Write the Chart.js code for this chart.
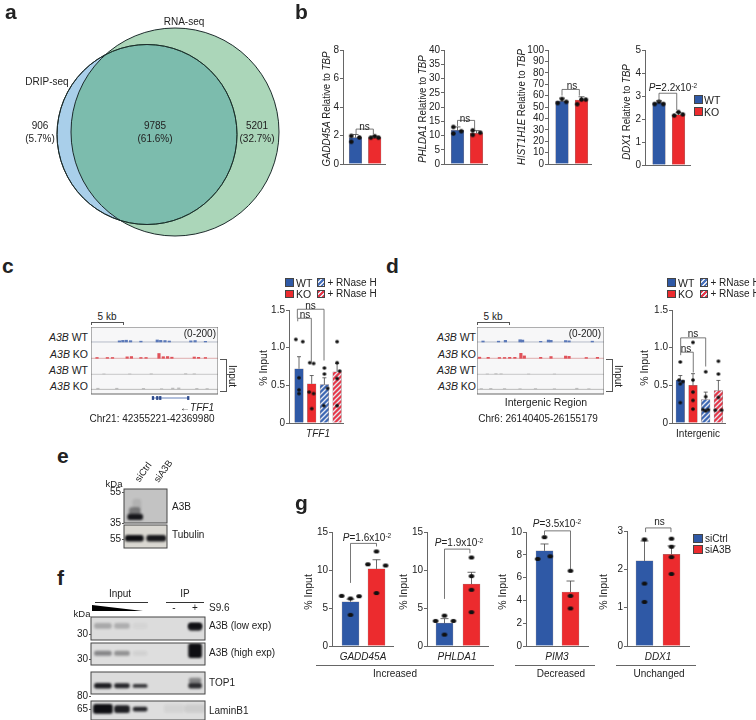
<!DOCTYPE html>
<html lang="en">
<head>
<meta charset="UTF-8">
<title>DRIP-seq figure</title>
<script src="https://cdn.jsdelivr.net/npm/chart.js"></script>
<style>
  html, body { margin: 0; padding: 0; background: #fff; }
  #fig { position: relative; width: 756px; height: 720px; overflow: hidden; font-family: "Liberation Sans", Arial, sans-serif; color: #222; }
  #fig canvas { position: absolute; }
  .t { position: absolute; white-space: nowrap; line-height: 1; }
  .t sup { font-size: 65%; line-height: 0; vertical-align: 0.45em; }
  .ln { position: absolute; background: #555; }
  .sq { position: absolute; box-sizing: border-box; border: 0.5px solid #444; }
</style>
</head>
<body>
<div id="fig"></div>
<script>
// panel a
const vennDrip = [{ x: 147, y: 134.5, r: 90 }];
const vennRna = [{ x: 175, y: 132, r: 104 }];

// panel b
const gaddBars = [1.85, 1.85], gaddErr = [0.22, 0.1];
const gaddDots = [[1.97, 1.56, 1.86], [1.85, 1.95, 1.85]];
const phldaBars = [11.8, 10.8], phldaErr = [1.2, 0.9];
const phldaDots = [[13, 10.7, 11.5], [11.8, 10.2, 11]];
const histBars = [55, 56], histErr = [2.8, 3];
const histDots = [[53.5, 57, 54.5], [52.5, 56.5, 56.5]];
const ddxBars = [2.71, 2.18], ddxErr = [0.08, 0.11];
const ddxDots = [[2.65, 2.75, 2.65], [2.15, 2.3, 2.2]];

// panel c
const tffBars = [0.72, 0.52, 0.51, 0.68], tffErr = [0.16, 0.11, 0.09, 0.11];
const tffDots = [[1.11, 1.08, 0.6, 0.44, 0.39], [0.8, 0.79, 0.41, 0.39, 0.19], [0.73, 0.65, 0.46, 0.23], [1.08, 0.8, 0.69, 0.59, 0.23]];

// panel d
const interBars = [0.57, 0.5, 0.31, 0.43], interErr = [0.06, 0.155, 0.1, 0.135];
const interDots = [[0.81, 0.57, 0.55, 0.52, 0.27], [1.07, 0.57, 0.41, 0.3, 0.185], [0.68, 0.35, 0.177, 0.177, 0.16], [0.82, 0.65, 0.34, 0.17, 0.17]];

// browser tracks, [kb from window start, signal]
const tffTrackWT = [[3.3, 14], [3.7, 20], [4.1, 22], [4.6, 16], [5.8, 10], [7.7, 25], [8.1, 20], [8.6, 18], [9.1, 12], [11.6, 14], [12.1, 18], [13.3, 8]];
const tffTrackKO = [[0.7, 10], [1.9, 10], [2.5, 10], [4.2, 18], [4.7, 22], [5.8, 10], [6.4, 10], [7.9, 60], [8.4, 20], [8.9, 22], [9.4, 14], [12, 16], [12.5, 12], [13.3, 10]];
const tffInputWT = [[1.5, 6], [4.5, 6], [7, 8], [11, 10], [12, 8]];
const tffInputKO = [[0.8, 14], [3, 14], [6.1, 12], [8.2, 8], [9.5, 16], [10.2, 18], [12.3, 12], [13.5, 10]];
const tffGeneSpan = [7.2, 11.4], tffExons = [7.2, 7.7, 8.05, 11.3];
const interTrackWT = [[0.7, 12], [2.5, 10], [3.3, 20], [5, 28], [5.3, 24], [7.4, 8], [8.3, 24], [8.6, 20], [10.3, 18], [10.7, 14], [13.4, 10]];
const interTrackKO = [[0.3, 14], [1.3, 12], [2.6, 10], [3.2, 10], [3.8, 12], [4.4, 12], [5.1, 62], [5.5, 30], [7.4, 12], [8.6, 22], [10.3, 28], [10.7, 24], [12.7, 10], [14, 12]];
const interInputWT = [[1.2, 6], [2.2, 10], [2.8, 8], [6, 5], [9, 5]];
const interInputKO = [[0.5, 10], [1.6, 12], [3.2, 10], [5, 8], [6.8, 10], [9, 8], [11.6, 14], [13, 8]];

// blots, band strength per lane
const siLanes = ["siCtrl", "siA3B"];
const eA3B = [0.95, 0], eTubulin = [1, 0.95];
const fA3BLow = [0.25, 0.22, 0.04, 0, 0, 0.95];
const fA3BHigh = [0.42, 0.36, 0.06, 0, 0, 1];
const fTop1 = [0.92, 0.88, 0.8, 0, 0, 0.85];
const fLamin = [1, 0.92, 0.88, 0, 0.05, 0.08];

// panel g
const gGaddBars = [5.82, 10.15], gGaddErr = [0.35, 1.2];
const gGaddDots = [[6.6, 6.25, 6.55, 4.1], [12.45, 10.75, 10.6, 6.97]];
const gPhldaBars = [3, 8.15], gPhldaErr = [0.6, 1.55];
const gPhldaDots = [[4, 3.3, 3.3, 1.5], [11.65, 9.2, 7.4, 4.45]];
const gPimBars = [8.35, 4.74], gPimErr = [0.6, 0.96];
const gPimDots = [[9.55, 7.64, 7.87], [6.6, 4.4, 3.3]];
const gDdxBars = [2.22, 2.39], gDdxErr = [0.52, 0.22];
const gDdxDots = [[3.3, 2.78, 1.63, 1.15], [2.8, 2.59, 2.32, 1.88]];

const BLUE = "#2f59a6", RED = "#ec2b2e", AXIS = "#666";
const fig = document.getElementById("fig");

function txt(html, x, y, opt) {
  opt = opt || {};
  const d = document.createElement("div");
  d.className = "t";
  d.innerHTML = html;
  d.style.left = x + "px";
  d.style.top = y + "px";
  d.style.fontSize = (opt.size || 10) + "px";
  if (opt.bold) d.style.fontWeight = "bold";
  const ax = opt.a === "l" ? "0" : opt.a === "r" ? "-100%" : "-50%";
  d.style.transform = "translate(" + ax + ",-50%)" + (opt.rot ? " rotate(" + opt.rot + "deg)" : "") + (opt.sx ? " scaleX(" + opt.sx + ")" : "");
  fig.appendChild(d);
}
function line(x, y, w, h, color) {
  const d = document.createElement("div");
  d.className = "ln";
  d.style.cssText = "left:" + x + "px;top:" + y + "px;width:" + w + "px;height:" + h + "px;" + (color ? "background:" + color : "");
  fig.appendChild(d);
}
function square(x, y, w, h, bg) {
  const d = document.createElement("div");
  d.className = "sq";
  d.style.cssText = "left:" + x + "px;top:" + y + "px;width:" + w + "px;height:" + h + "px;background:" + bg;
  fig.appendChild(d);
}
function newCanvas(left, top, w, h) {
  const c = document.createElement("canvas");
  c.width = w; c.height = h;
  c.style.left = left + "px"; c.style.top = top + "px";
  c.style.width = w + "px"; c.style.height = h + "px";
  fig.appendChild(c);
  return c;
}
function hatch(color) {
  const c = document.createElement("canvas");
  c.width = 5; c.height = 5;
  const g = c.getContext("2d");
  g.fillStyle = color; g.fillRect(0, 0, 5, 5);
  g.strokeStyle = "#e6e9f2"; g.lineWidth = 1.3;
  g.beginPath();
  g.moveTo(-1, 6); g.lineTo(6, -1);
  g.moveTo(-1, 1); g.lineTo(1, -1);
  g.moveTo(4, 6); g.lineTo(6, 4);
  g.stroke();
  return c;
}
function dotImg(w, h) {
  const c = document.createElement("canvas");
  c.width = Math.ceil(w) + 2; c.height = Math.ceil(h) + 2;
  const g = c.getContext("2d");
  g.fillStyle = "#111";
  g.beginPath();
  g.ellipse(c.width / 2, c.height / 2, w / 2, h / 2, 0, 0, Math.PI * 2);
  g.fill();
  return c;
}

// error whiskers and p-value brackets go through the chart's scales
const barExtras = {
  id: "barExtras",
  afterDatasetDraw(chart, args, o) {
    if (args.index !== 0) return;
    const g = chart.ctx, sx = chart.scales.x, sy = chart.scales.y;
    g.save();
    g.strokeStyle = "#444"; g.lineWidth = 0.8;
    o.bars.forEach((v, i) => {
      const x = sx.getPixelForValue(i), y0 = sy.getPixelForValue(v), y1 = sy.getPixelForValue(v + o.err[i]);
      g.beginPath();
      g.moveTo(x, y0); g.lineTo(x, y1);
      g.moveTo(x - o.cap, y1); g.lineTo(x + o.cap, y1);
      g.stroke();
    });
    g.restore();
  },
  afterDraw(chart, args, o) {
    const g = chart.ctx, sx = chart.scales.x, sy = chart.scales.y;
    g.save();
    g.strokeStyle = "#555"; g.lineWidth = 0.8;
    (o.brackets || []).forEach(b => {
      const x1 = sx.getPixelForValue(b[0]), x2 = sx.getPixelForValue(b[1]);
      g.beginPath();
      g.moveTo(x1, sy.getPixelForValue(b[3]));
      g.lineTo(x1, sy.getPixelForValue(b[2]));
      g.lineTo(x2, sy.getPixelForValue(b[2]));
      g.lineTo(x2, sy.getPixelForValue(b[4]));
      g.stroke();
    });
    g.restore();
  }
};

function barChart(cfg) {
  const padL = 24, padT = 20, padR = 6, padB = 4;
  const [px, py, pw, ph] = cfg.plot;
  const c = newCanvas(px - padL, py - padT, pw + padL + padR, ph + padT + padB);
  const xMin = -(cfg.c0 - px) / cfg.s, xMax = (px + pw - cfg.c0) / cfg.s;
  const dotData = [];
  cfg.dots.forEach((vals, i) => vals.forEach((v, j) => dotData.push({ x: i + cfg.jit[i][j], y: v })));
  const g = c.getContext("2d");
  const fills = cfg.colors.map(k => (typeof k === "string" ? k : g.createPattern(k, "repeat")));
  new Chart(c, {
    type: "bar",
    data: {
      datasets: [
        {
          data: cfg.bars.map((v, i) => ({ x: i, y: v })),
          backgroundColor: fills,
          borderColor: "rgba(60,30,30,.55)",
          borderWidth: 0.5,
          barThickness: cfg.bw,
          order: 1
        },
        {
          type: "scatter",
          data: dotData,
          pointStyle: cfg.dot,
          clip: false,
          order: 0
        }
      ]
    },
    options: {
      responsive: false,
      animation: false,
      layout: { autoPadding: false, padding: { top: padT, right: padR, bottom: padB, left: 0 } },
      plugins: {
        legend: { display: false },
        tooltip: { enabled: false },
        barExtras: { bars: cfg.bars, err: cfg.err, cap: cfg.cap || 3, brackets: cfg.brackets }
      },
      scales: {
        x: {
          type: "linear", min: xMin, max: xMax, offset: false,
          grid: { display: false, offset: false },
          ticks: { display: false },
          border: { color: AXIS, width: 1 },
          afterFit: s => { s.height = 0; }
        },
        y: {
          min: 0, max: cfg.ymax,
          grid: { drawOnChartArea: false, tickLength: 3, color: AXIS },
          border: { color: AXIS, width: 1 },
          ticks: {
            stepSize: cfg.step, autoSkip: false, padding: 1, color: "#222",
            font: { family: "Liberation Sans", size: 10 },
            callback: cfg.fmt || (v => String(v))
          },
          afterFit: s => { s.width = padL; }
        }
      }
    },
    plugins: [barExtras]
  });
}

// ---- panel a
(function () {
  const c = newCanvas(0, 0, 300, 240);
  new Chart(c, {
    type: "bubble",
    data: {
      datasets: [
        { data: vennDrip, backgroundColor: "transparent", borderColor: "#1c2b2b", borderWidth: 1, clip: false },
        { data: vennRna, backgroundColor: "rgba(68,164,100,.45)", borderColor: "#1c2b2b", borderWidth: 1, clip: false },
        { data: vennDrip, backgroundColor: "#a9cfea", borderColor: "#1c2b2b", borderWidth: 1, clip: false }
      ]
    },
    options: {
      responsive: false, animation: false,
      layout: { autoPadding: false },
      plugins: { legend: { display: false }, tooltip: { enabled: false } },
      scales: {
        x: { display: false, min: 0, max: 300 },
        y: { display: false, min: 0, max: 240, reverse: true }
      }
    }
  });
})();
txt("a", 5, 11, { size: 21, bold: true, a: "l" });
txt("RNA-seq", 184, 22);
txt("DRIP-seq", 47, 82);
txt("906", 40, 126); txt("(5.7%)", 40, 139);
txt("9785", 155, 126); txt("(61.6%)", 155, 139);
txt("5201", 257, 126); txt("(32.7%)", 257, 139);

// ---- panel b
txt("b", 295, 11, { size: 21, bold: true, a: "l" });
const jitB = [[-0.22, -0.22, 0.2], [-0.2, 0, 0.2]];
const dotB = dotImg(4.6, 4.4);
barChart({ plot: [343, 49.7, 42, 117.6], c0: 355.5, s: 19.2, bw: 12.6, ymax: 8, step: 2, bars: gaddBars, err: gaddErr, dots: gaddDots, jit: jitB, colors: [BLUE, RED], dot: dotB, brackets: [[0.03, 0.93, 2.45, 2.1, 2.1]] });
barChart({ plot: [444, 49.7, 43, 117.6], c0: 457.5, s: 19, bw: 12.6, ymax: 40, step: 5, bars: phldaBars, err: phldaErr, dots: phldaDots, jit: [[-0.22, -0.22, 0.2], [-0.2, -0.2, 0.2]], colors: [BLUE, RED], dot: dotB, brackets: [[0, 0.9, 15.3, 13.3, 12.1]] });
barChart({ plot: [548, 49.7, 43, 117.6], c0: 562, s: 19.5, bw: 12.6, ymax: 100, step: 10, bars: histBars, err: histErr, dots: histDots, jit: [[-0.22, 0, 0.22], [-0.22, 0, 0.22]], colors: [BLUE, RED], dot: dotB, brackets: [[0, 0.89, 65.4, 60, 60]] });
barChart({ plot: [645, 49.7, 45, 118.6], c0: 659, s: 19.5, bw: 12.6, ymax: 5, step: 1, bars: ddxBars, err: ddxErr, dots: ddxDots, jit: [[-0.22, 0, 0.22], [-0.22, 0, 0.22]], colors: [BLUE, RED], dot: dotB, brackets: [[0, 0.91, 3.12, 2.74, 2.39]] });
txt("<i>GADD45A</i> Relative to <i>TBP</i>", 326, 109, { size: 10.5, sx: 0.92, rot: -90 });
txt("<i>PHLDA1</i> Relative to <i>TBP</i>", 422, 109, { size: 10.5, sx: 0.92, rot: -90 });
txt("<i>HIST1H1E</i> Relative to <i>TBP</i>", 521, 107, { size: 10.5, sx: 0.92, rot: -90 });
txt("<i>DDX1</i> Relative to <i>TBP</i>", 626, 112, { size: 10.5, sx: 0.92, rot: -90 });
txt("ns", 364.5, 126.5); txt("ns", 465, 118.5); txt("ns", 572, 86);
txt("<i>P</i>=2.2x10<sup>-2</sup>", 673, 88, { size: 10 });
square(694, 95, 9, 9, BLUE); txt("WT", 704, 99.5, { size: 10.5, a: "l" });
square(694, 107, 9, 8.5, RED); txt("KO", 704, 111.5, { size: 10.5, a: "l" });

// ---- tracks for c and d
const trackBase = [650, 446, 246, 58];
const trackCols = ["#5a78b8", "#e0525a", "#c4c4c4", "#bcbcbc"];
const baseCols = ["#a4abbc", "#d99a9a", "#bbbbbb", "#aaaaaa"];
const trackBox = {
  id: "trackBox",
  beforeDraw(chart) {
    const a = chart.chartArea, g = chart.ctx;
    g.fillStyle = "#f7f7f8";
    g.fillRect(a.left, a.top, a.width, a.height);
  },
  afterDraw(chart) {
    const a = chart.chartArea, g = chart.ctx;
    g.strokeStyle = "#666"; g.lineWidth = 1;
    g.strokeRect(a.left, a.top, a.width, a.height);
  }
};
function trackChart(left, tracks, geneSpan, exons) {
  const c = newCanvas(left, 327, 127, 80);
  const ds = [];
  tracks.forEach((tr, i) => {
    ds.push({
      data: tr.map(p => ({ x: p[0], y: [trackBase[i], trackBase[i] + p[1]] })),
      backgroundColor: trackCols[i], barThickness: 2.5, grouped: false, order: 0
    });
    ds.push({
      type: "line", data: [{ x: 0, y: trackBase[i] }, { x: 14.76, y: trackBase[i] }],
      borderColor: baseCols[i], borderWidth: 0.8, pointRadius: 0, order: 1
    });
  });
  if (geneSpan) {
    ds.push({
      type: "line", data: geneSpan.map(k => ({ x: k, y: -50 })), clip: false,
      borderColor: "#3d5fa8", borderWidth: 0.8, pointRadius: 0, order: 1
    });
    ds.push({
      data: exons.map(k => ({ x: k, y: [-70, -30] })), clip: false,
      backgroundColor: "#2d4a8c", barThickness: 1.6, grouped: false, order: 0
    });
  }
  new Chart(c, {
    type: "bar",
    data: { datasets: ds },
    options: {
      responsive: false, animation: false,
      layout: { autoPadding: false, padding: { bottom: 13 } },
      plugins: { legend: { display: false }, tooltip: { enabled: false } },
      scales: {
        x: { type: "linear", display: false, min: 0, max: 14.76, offset: false, grid: { offset: false } },
        y: { display: false, min: 0, max: 837 }
      }
    },
    plugins: [trackBox]
  });
}
function trackLabels(right, y) {
  ["<i>A3B</i> WT", "<i>A3B</i> KO", "<i>A3B</i> WT", "<i>A3B</i> KO"].forEach((s, i) => {
    txt(s, right, y[i], { size: 10.5, a: "r" });
  });
}
function fiveKb(x) {
  txt("5 kb", x + 16, 317, { size: 10 });
  line(x, 322, 32, 0.8); line(x, 322, 0.8, 3); line(x + 31.5, 322, 0.8, 3);
}
function inputBracket(x) {
  line(x, 359, 6.5, 0.8); line(x, 391, 6.5, 0.8); line(x + 6, 359, 0.8, 32.6);
  txt("Input", x + 12, 376, { size: 10, rot: 90 });
}

// ---- panel c
txt("c", 2, 265, { size: 21, bold: true, a: "l" });
trackChart(91, [tffTrackWT, tffTrackKO, tffInputWT, tffInputKO], tffGeneSpan, tffExons);
trackLabels(88, [337, 354, 370, 386]);
fiveKb(91);
txt("(0-200)", 216, 334, { size: 10, a: "r" });
inputBracket(220);
txt("\u2190<i>TFF1</i>", 197, 408, { size: 10 });
txt("Chr21: 42355221-42369980", 152, 419, { size: 10 });
const jitC = [[-0.25, 0.3, 0, 0, 0], [-0.15, 0.15, -0.2, 0.15, 0], [0, 0, 0.25, -0.05], [0, 0, 0.2, 0, 0]];
const dotC = dotImg(3.8, 3.4);
const hatchBlue = hatch("#3f69b4"), hatchRed = hatch("#e6394a");
barChart({ plot: [289, 310, 54, 116], c0: 299, s: 12.7, bw: 8.6, ymax: 1.5, step: 0.5, bars: tffBars, err: tffErr, dots: tffDots, jit: jitC, cap: 2, dot: dotC, colors: [BLUE, RED, hatchBlue, hatchRed], fmt: v => (v === 0 ? "0" : v.toFixed(1)), brackets: [[-0.1, 0.97, 1.39, 1.35, 0.81], [-0.13, 1.97, 1.51, 1.39, 0.83]] });
txt("% Input", 263, 368, { size: 10.5, rot: -90 });
txt("<i>TFF1</i>", 318, 434, { size: 10 });
txt("ns", 310.5, 306); txt("ns", 305, 314.5);

// ---- panel d
txt("d", 386, 265, { size: 21, bold: true, a: "l" });
trackChart(477, [interTrackWT, interTrackKO, interInputWT, interInputKO]);
trackLabels(476, [337, 354, 370, 386]);
fiveKb(477);
txt("(0-200)", 601, 334, { size: 10, a: "r" });
inputBracket(606);
txt("Intergenic Region", 546, 402, { size: 10.5 });
txt("Chr6: 26140405-26155179", 538, 419, { size: 10 });
const jitD = [[0, -0.1, 0.2, 0, 0], [0, 0, 0, 0, 0], [0, 0, -0.2, 0.2, 0], [0, 0, 0, -0.25, 0.25]];
barChart({ plot: [672, 310, 53, 116], c0: 680.3, s: 12.7, bw: 8.6, ymax: 1.5, step: 0.5, bars: interBars, err: interErr, dots: interDots, jit: jitD, cap: 2, dot: dotC, colors: [BLUE, RED, hatchBlue, hatchRed], fmt: v => (v === 0 ? "0" : v.toFixed(1)), brackets: [[0.03, 1.02, 0.94, 0.9, 0.67], [0.03, 2, 1.13, 0.94, 0.75]] });
txt("% Input", 644, 368, { size: 10.5, rot: -90 });
txt("Intergenic", 698, 434, { size: 10 });
txt("ns", 693, 333.5); txt("ns", 686, 349);

// hatched legend entries in c and d
function legendCD(x1, x2) {
  const stripes = col => "repeating-linear-gradient(135deg," + col + " 0 2px,#e6e9f2 2px 3.2px)";
  square(x1, 278, 8.5, 8.5, BLUE); txt("WT", x1 + 11, 282.5, { size: 10.5, a: "l" });
  square(x1, 289.5, 8.5, 8.5, RED); txt("KO", x1 + 11, 294, { size: 10.5, a: "l" });
  square(x2, 278, 8, 8.5, stripes("#4a73bd")); txt("+ RNase H", x2 + 10.5, 282.5, { size: 10, a: "l" });
  square(x2, 289.5, 8, 8.5, stripes("#e6394a")); txt("+ RNase H", x2 + 10.5, 294, { size: 10, a: "l" });
}
legendCD(285, 317);
legendCD(667, 700);

// ---- blots
const blurBands = {
  id: "blurBands",
  beforeDraw(chart, args, o) {
    const a = chart.chartArea, g = chart.ctx;
    g.fillStyle = o.bg;
    g.fillRect(a.left, a.top, a.width, a.height);
  },
  beforeDatasetsDraw(chart) { chart.ctx.save(); chart.ctx.filter = "blur(0.9px)"; },
  afterDatasetsDraw(chart) { chart.ctx.restore(); },
  afterDraw(chart) {
    const a = chart.chartArea, g = chart.ctx;
    g.strokeStyle = "#444"; g.lineWidth = 1;
    g.strokeRect(a.left, a.top, a.width, a.height);
  }
};
function blot(left, top, w, h, cfg) {
  const c = newCanvas(left - 1, top - 1, w + 2, h + 2);
  const ds = [];
  cfg.strength.forEach((v, i) => {
    if (!v) return;
    ds.push({
      data: [{ x: cfg.laneX[i], y: cfg.band[i] || cfg.band[0] }],
      backgroundColor: "rgba(14,14,18," + v + ")",
      barThickness: cfg.widths[i], borderRadius: 2.5, borderSkipped: false, grouped: false
    });
  });
  (cfg.smear || []).forEach(s => ds.push({
    data: [{ x: s[0], y: [s[1], s[2]] }],
    backgroundColor: "rgba(30,30,34," + s[3] + ")", barThickness: s[4], borderRadius: 3, borderSkipped: false, grouped: false
  }));
  new Chart(c, {
    type: "bar",
    data: { datasets: ds },
    options: {
      responsive: false, animation: false,
      layout: { autoPadding: false, padding: 1 },
      plugins: { legend: { display: false }, tooltip: { enabled: false }, blurBands: { bg: cfg.bg } },
      scales: {
        x: { type: "linear", display: false, min: cfg.xr[0], max: cfg.xr[1], offset: false, grid: { offset: false } },
        y: { display: false, min: 0, max: 1 }
      }
    },
    plugins: [blurBands]
  });
}

// panel e
txt("e", 57, 455, { size: 21, bold: true, a: "l" });
blot(124, 489, 43, 34, { bg: "#c3c3c3", xr: [-0.5, 1.5], laneX: [0.02, 1], strength: eA3B, band: [[0.1, 0.26]], widths: [15, 15], smear: [[0, 0.24, 0.45, 0.45, 11], [0.1, 0.4, 0.7, 0.1, 8]] });
blot(124, 525, 43, 23, { bg: "#dad8d2", xr: [-0.5, 1.5], laneX: [-0.02, 1], strength: eTubulin, band: [[0.3, 0.55]], widths: [18, 19] });
txt("kDa", 114, 484, { size: 9.5 });
txt("55", 121, 492, { size: 10, a: "r" }); line(122, 491.5, 2, 0.8);
txt("35", 121, 523, { size: 10, a: "r" }); line(122, 522.5, 2, 0.8);
txt("55", 121, 539, { size: 10, a: "r" }); line(122, 538.5, 2, 0.8);
txt(siLanes[0], 143, 472, { size: 9.5, rot: -55 });
txt(siLanes[1], 163, 471, { size: 9.5, rot: -55 });
txt("A3B", 172, 507, { size: 10, a: "l" });
txt("Tubulin", 172, 535, { size: 10, a: "l" });

// panel f
txt("f", 57, 577, { size: 21, bold: true, a: "l" });
const laneF = [0, 1.04, 2.03, 3, 3.89, 5.03], widthF = [17, 15, 14, 13, 13, 13], xrF = [-0.65, 5.57];
blot(91, 617, 114, 23, { bg: "#dcdcdc", xr: xrF, laneX: laneF, strength: fA3BLow, widths: widthF, band: [[0.5, 0.72]], smear: [[5.03, 0.42, 0.72, 0.9, 13]] });
blot(91, 643, 114, 22, { bg: "#dedede", xr: xrF, laneX: laneF, strength: fA3BHigh, widths: widthF, band: [[0.43, 0.63], [0.43, 0.63], [0.43, 0.63], [0, 0], [0, 0], [0.33, 0.97]] });
blot(91, 672, 114, 22, { bg: "#dcdcdc", xr: xrF, laneX: laneF, strength: fTop1, widths: widthF, band: [[0.26, 0.49], [0.28, 0.47], [0.3, 0.44], [0, 0], [0, 0], [0.26, 0.5]], smear: [[5.03, 0.5, 0.72, 0.45, 12]] });
blot(91, 701, 114, 19, { bg: "#dedede", xr: xrF, laneX: laneF, strength: fLamin, widths: [19, 15, 14, 13, 20, 20], band: [[0.34, 0.82], [0.38, 0.76], [0.46, 0.68], [0, 0], [0.4, 0.8], [0.4, 0.8]] });
txt("Input", 120, 594, { size: 10 }); line(95, 602, 53, 0.8, "#333");
txt("IP", 185, 594, { size: 10 }); line(166, 602, 38, 0.8, "#333");
txt("-", 174, 608, { size: 10 }); txt("+", 195, 608, { size: 10 });
txt("S9.6", 209, 608, { size: 10, a: "l" });
(function () {
  const w = document.createElement("div");
  w.style.cssText = "position:absolute;left:92px;top:605px;width:51px;height:6px;background:#000;clip-path:polygon(0 0,100% 100%,0 100%)";
  fig.appendChild(w);
})();
txt("kDa", 82, 614, { size: 9.5 });
txt("30", 88, 634, { size: 10, a: "r" }); line(89, 633.5, 2, 0.8);
txt("30", 88, 659, { size: 10, a: "r" }); line(89, 658.5, 2, 0.8);
txt("80", 88, 696, { size: 10, a: "r" }); line(89, 695.5, 2, 0.8);
txt("65", 88, 709, { size: 10, a: "r" }); line(89, 708.5, 2, 0.8);
txt("A3B (low exp)", 209, 626, { size: 10, a: "l" });
txt("A3B (high exp)", 209, 653, { size: 10, a: "l" });
txt("TOP1", 209, 683, { size: 10, a: "l" });
txt("LaminB1", 209, 711, { size: 10, a: "l" });

// ---- panel g
txt("g", 295, 502, { size: 21, bold: true, a: "l" });
const dotG = dotImg(5.6, 4);
barChart({ plot: [332, 532, 61, 117], c0: 350.5, s: 26, bw: 17, cap: 4, ymax: 15, step: 5, bars: gGaddBars, err: gGaddErr, dots: gGaddDots, jit: [[-0.34, 0, 0.33, 0], [0, -0.33, 0.35, 0]], colors: [BLUE, RED], dot: dotG, brackets: [[0, 1, 13.5, 8.3, 13.1]] });
barChart({ plot: [427, 532, 61, 117], c0: 444.5, s: 27, bw: 17, cap: 4, ymax: 15, step: 5, bars: gPhldaBars, err: gPhldaErr, dots: gPhldaDots, jit: [[0, -0.33, 0.33, 0], [0, 0, 0, 0]], colors: [BLUE, RED], dot: dotG, brackets: [[0, 0.94, 12.75, 6.2, 12.2]] });
barChart({ plot: [526, 532, 62, 117], c0: 544.5, s: 26, bw: 17, cap: 4, ymax: 10, step: 2, bars: gPimBars, err: gPimErr, dots: gPimDots, jit: [[0, -0.26, 0.22], [0, 0, 0]], colors: [BLUE, RED], dot: dotG, brackets: [[0, 1, 10.1, 9.65, 6.75]] });
barChart({ plot: [627, 530.7, 62, 118.3], c0: 644.5, s: 27, bw: 17, cap: 4, ymax: 3, step: 1, bars: gDdxBars, err: gDdxErr, dots: gDdxDots, jit: [[0, 0, 0, 0], [0, 0, 0, 0]], colors: [BLUE, RED], dot: dotG, brackets: [[0.04, 0.98, 3.08, 2.97, 2.97]] });
[308, 403, 502, 603].forEach(x => txt("% Input", x, 592, { size: 10.5, rot: -90 }));
txt("<i>P</i>=1.6x10<sup>-2</sup>", 367, 538, { size: 10 });
txt("<i>P</i>=1.9x10<sup>-2</sup>", 459, 543, { size: 10 });
txt("<i>P</i>=3.5x10<sup>-2</sup>", 557, 524, { size: 10 });
txt("ns", 659.5, 522);
txt("<i>GADD45A</i>", 363, 657, { size: 10 });
txt("<i>PHLDA1</i>", 457, 657, { size: 10 });
txt("<i>PIM3</i>", 557, 657, { size: 10 });
txt("<i>DDX1</i>", 658, 657, { size: 10 });
line(316, 665, 178, 0.8, "#666"); line(515, 665, 80, 0.8, "#666"); line(616, 665, 80, 0.8, "#666");
txt("Increased", 395, 674, { size: 10 });
txt("Decreased", 561, 674, { size: 10 });
txt("Unchanged", 659, 674, { size: 10 });
square(693, 534, 9.5, 9, BLUE); txt("siCtrl", 705, 538.5, { size: 10, a: "l" });
square(693, 545, 9.5, 9, RED); txt("siA3B", 705, 549.5, { size: 10, a: "l" });
</script>
</body>
</html>
